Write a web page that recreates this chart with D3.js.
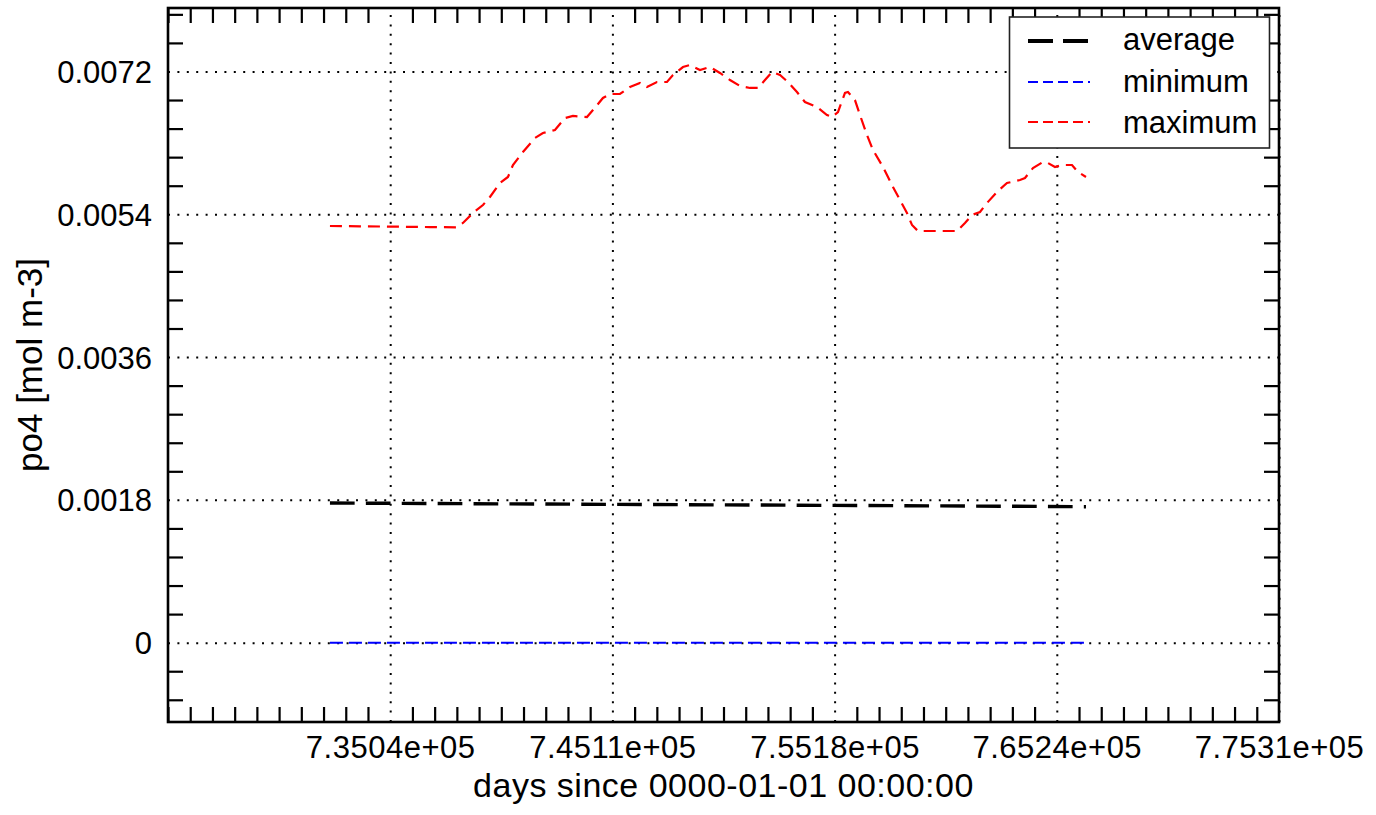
<!DOCTYPE html>
<html>
<head>
<meta charset="utf-8">
<script src="https://cdn.jsdelivr.net/npm/d3@7/dist/d3.min.js"></script>
<style>
  html, body { margin: 0; padding: 0; background: #fff; }
  svg { display: block; }
  text { font-family: "Liberation Sans", Arial, Helvetica, sans-serif; fill: #000; }
</style>
</head>
<body>
<svg id="chart" width="1376" height="815"></svg>
<script>
// ---------------- data ----------------
const maxDays = [732310, 733670, 735482, 736841, 738019, 738336, 738790, 739243, 739560, 740013,
  740375, 740602, 741055, 741599, 741961, 742505, 742958, 743321, 743955, 744227,
  744680, 744997, 745450, 745903, 746356, 746673, 747127, 747580, 747852, 748305,
  748622, 749075, 749528, 749981, 750434, 750887, 751340, 751703, 752020, 752337,
  752700, 753062, 753470, 753832, 754376, 754829, 755056, 755328, 755645, 755781,
  756098, 756325, 756642, 756914, 757367, 757820, 758137, 758454, 758681, 758953,
  759949, 760720, 761082, 761399, 761762, 762079, 762532, 762985, 763574, 763801,
  764163, 764616, 764843, 765160, 765477, 765930, 766202, 766565];
const maxValues = [0.005252, 0.005248, 0.005243, 0.005239, 0.005236, 0.005290, 0.005416, 0.005517, 0.005618, 0.005794,
  0.005870, 0.006021, 0.006185, 0.006361, 0.006424, 0.006462, 0.006613, 0.006639, 0.006626, 0.006714,
  0.006866, 0.006916, 0.006916, 0.007004, 0.007055, 0.007004, 0.007067, 0.007067, 0.007155, 0.007256,
  0.007281, 0.007218, 0.007256, 0.007181, 0.007092, 0.007017, 0.006992, 0.006992, 0.007092, 0.007193,
  0.007155, 0.007067, 0.006941, 0.006815, 0.006752, 0.006651, 0.006626, 0.006689, 0.006929, 0.006941,
  0.006840, 0.006651, 0.006399, 0.006210, 0.005996, 0.005744, 0.005580, 0.005416, 0.005265, 0.005189,
  0.005189, 0.005189, 0.005290, 0.005391, 0.005429, 0.005542, 0.005681, 0.005794, 0.005832, 0.005857,
  0.005983, 0.006059, 0.006046, 0.005996, 0.006021, 0.006021, 0.005933, 0.005870];

const avgDays = [732310, 740000, 750000, 760000, 766565];
const avgValues = [0.001760, 0.001750, 0.001737, 0.001724, 0.001714];

const minDays = [732310, 766565];
const minValues = [0.0, 0.0];

const xTickValues = [735040, 745107.5, 755175, 765242.5, 775310];
const xTickLabels = ["7.3504e+05", "7.4511e+05", "7.5518e+05", "7.6524e+05", "7.7531e+05"];
const yTickValues = [0, 0.0018, 0.0036, 0.0054, 0.0072];
const yTickLabels = ["0", "0.0018", "0.0036", "0.0054", "0.0072"];

const seriesNames = ["average", "minimum", "maximum"];
const seriesColors = ["#000000", "#0000ff", "#ff0000"];

// ---------------- layout ----------------
const L = 168, R = 1279, T = 8, B = 722;
const svg = d3.select("#chart");

const x = d3.scaleLinear().domain([724972.5, 775310]).range([L, R]);
const y = d3.scaleLinear().domain([-0.001, 0.008]).range([B, T]);

// minor tick positions (ticks only, not data)
const xStep = (xTickValues[1] - xTickValues[0]) / 10;
const xMinor = d3.range(x.domain()[0], x.domain()[1] + 1, xStep)
  .filter(v => !xTickValues.some(t => Math.abs(t - v) < xStep / 2));
const yStep = 0.00036;
const yMinor = d3.range(-0.00072, 0.0080, yStep)
  .filter(v => !yTickValues.some(t => Math.abs(t - v) < yStep / 2));

// ---------------- grid ----------------
const gridStyle = g => {
  g.select(".domain").remove();
  g.selectAll(".tick text").remove();
  g.selectAll(".tick line")
    .attr("stroke", "#000").attr("stroke-width", 2).attr("stroke-dasharray", "2,7.4");
};
svg.append("g").attr("transform", `translate(0,${B})`)
  .call(d3.axisBottom(x).tickValues(xTickValues).tickSize(-(B - T)).tickFormat(""))
  .call(gridStyle);
svg.append("g").attr("transform", `translate(${L},0)`)
  .call(d3.axisLeft(y).tickValues(yTickValues).tickSize(-(R - L)).tickFormat(""))
  .call(gridStyle);

// ---------------- minor ticks on all four sides ----------------
const tickStyle = g => {
  g.select(".domain").remove();
  g.selectAll(".tick text").remove();
  g.selectAll(".tick line").attr("stroke", "#000").attr("stroke-width", 2.2);
};
const TL = 15;
svg.append("g").attr("transform", `translate(0,${B})`)
  .call(d3.axisBottom(x).tickValues(xMinor).tickSize(-TL)).call(tickStyle);
svg.append("g").attr("transform", `translate(0,${T})`)
  .call(d3.axisTop(x).tickValues(xMinor).tickSize(-TL)).call(tickStyle);
svg.append("g").attr("transform", `translate(${L},0)`)
  .call(d3.axisLeft(y).tickValues(yMinor).tickSize(-TL)).call(tickStyle);
svg.append("g").attr("transform", `translate(${R},0)`)
  .call(d3.axisRight(y).tickValues(yMinor).tickSize(-TL)).call(tickStyle);

// ---------------- tick labels ----------------
svg.append("g").attr("transform", `translate(0,${B})`)
  .call(d3.axisBottom(x).tickValues(xTickValues).tickSize(0)
    .tickFormat((d, i) => xTickLabels[i]))
  .call(g => {
    g.select(".domain").remove();
    g.selectAll(".tick line").remove();
    g.selectAll(".tick text")
      .attr("y", 36).attr("dy", 0)
      .attr("font-size", 31).attr("letter-spacing", 0.5)
      .attr("font-family", "Liberation Sans, Arial, sans-serif")
      .attr("fill", "#000");
  });
svg.append("g").attr("transform", `translate(${L},0)`)
  .call(d3.axisLeft(y).tickValues(yTickValues).tickSize(0)
    .tickFormat((d, i) => yTickLabels[i]))
  .call(g => {
    g.select(".domain").remove();
    g.selectAll(".tick line").remove();
    g.selectAll(".tick text")
      .attr("x", -16).attr("dy", 11)
      .attr("font-size", 31).attr("font-family", "Liberation Sans, Arial, sans-serif")
      .attr("fill", "#000");
  });

// ---------------- series ----------------
const line = d3.line().x(d => x(d[0])).y(d => y(d[1]));
const zip = (a, b) => a.map((v, i) => [v, b[i]]);

svg.append("path").datum(zip(minDays, minValues))
  .attr("d", line).attr("fill", "none")
  .attr("stroke", seriesColors[1]).attr("stroke-width", 2).attr("stroke-dasharray", "13,6");
svg.append("path").datum(zip(maxDays, maxValues))
  .attr("d", line).attr("fill", "none")
  .attr("stroke", seriesColors[2]).attr("stroke-width", 2.2).attr("stroke-dasharray", "12,7");
svg.append("path").datum(zip(avgDays, avgValues))
  .attr("d", line).attr("fill", "none")
  .attr("stroke", seriesColors[0]).attr("stroke-width", 3.4).attr("stroke-dasharray", "24.7,11.2");

// ---------------- frame ----------------
svg.append("rect").attr("x", L).attr("y", T).attr("width", R - L).attr("height", B - T)
  .attr("fill", "none").attr("stroke", "#000").attr("stroke-width", 2.6);

// ---------------- axis titles ----------------
svg.append("text").attr("x", (L + R) / 2).attr("y", 797).attr("text-anchor", "middle")
  .attr("font-size", 34).attr("letter-spacing", 0.5).text("days since 0000-01-01 00:00:00");
svg.append("text").attr("transform", `translate(42,${(T + B) / 2}) rotate(-90)`)
  .attr("text-anchor", "middle").attr("font-size", 35).text("po4 [mol m-3]");

// ---------------- legend ----------------
const lg = svg.append("g");
lg.append("rect").attr("x", 1009.5).attr("y", 17).attr("width", 260).attr("height", 131)
  .attr("fill", "#fff").attr("stroke", "#222").attr("stroke-width", 1.6);
const legendY = [41, 82, 122];
const legendTextY = [50, 92, 133];
const legendDash = ["25,10", "10,5", "10,5"];
const legendWidth = [3.8, 2, 2];
seriesNames.forEach((name, i) => {
  lg.append("line").attr("x1", 1028).attr("x2", 1090)
    .attr("y1", legendY[i]).attr("y2", legendY[i])
    .attr("stroke", seriesColors[i]).attr("stroke-width", legendWidth[i])
    .attr("stroke-dasharray", legendDash[i]);
  lg.append("text").attr("x", 1123).attr("y", legendTextY[i])
    .attr("font-size", 31).text(name);
});
</script>
</body>
</html>
